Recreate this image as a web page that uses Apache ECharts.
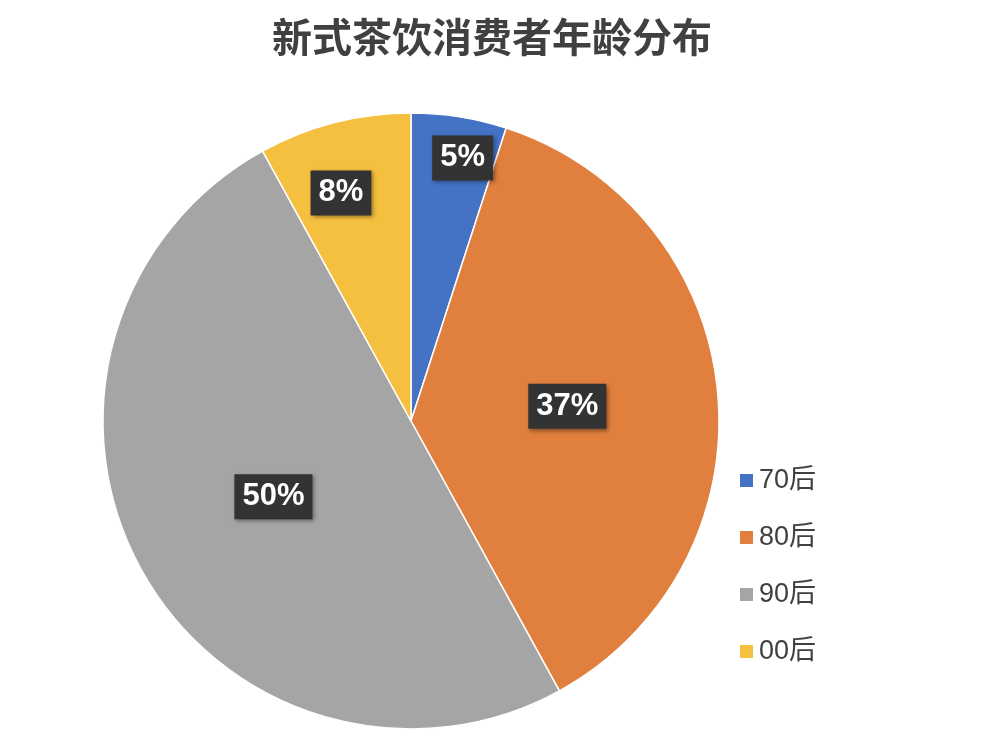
<!DOCTYPE html>
<html><head><meta charset="utf-8">
<script src="https://cdn.jsdelivr.net/npm/echarts@6/dist/echarts.min.js"></script>
<style>html,body{margin:0;padding:0;background:#fff}#c{width:984px;height:754px}</style>
</head><body><div id="c"></div>
<script>
const categories = ['70后','80后','90后','00后'];
const values = [5, 37, 50, 8];
const colors = ['#4472C4','#E07F3E','#A5A5A5','#F5BF3F'];
const labelOffsets = [[27,-108],[0,0],[0,0],[-31,-76]];
const chart = echarts.init(document.getElementById('c'));
chart.setOption({
  title:{text:'新式茶饮消费者年龄分布',left:'center',top:12,
    textStyle:{fontSize:40,fontWeight:'bold',color:'#404040',fontFamily:'Noto Sans CJK SC'}},
  legend:{orient:'vertical',left:733,top:462,itemWidth:15,itemHeight:15,itemGap:30,
    icon:'rect',textStyle:{fontSize:27,color:'#404040',fontFamily:'Liberation Sans, Noto Sans CJK SC'}},
  color:colors,
  series:[{type:'pie',center:[411,421],radius:308,startAngle:90,clockwise:true,
    label:{position:'inside',formatter:'{c}%',color:'#fff',fontSize:31,fontWeight:'bold',
      fontFamily:'Liberation Sans',backgroundColor:'#333',padding:[8,8,6,8],
      shadowColor:'rgba(0,0,0,0.4)',shadowBlur:4,shadowOffsetX:2,shadowOffsetY:2},
    itemStyle:{borderColor:'#fff',borderWidth:1.5},
    labelLine:{show:false},
    emphasis:{disabled:true},
    data:categories.map((n,i)=>({name:n,value:values[i],label:{offset:labelOffsets[i]}}))}]
});
</script></body></html>
